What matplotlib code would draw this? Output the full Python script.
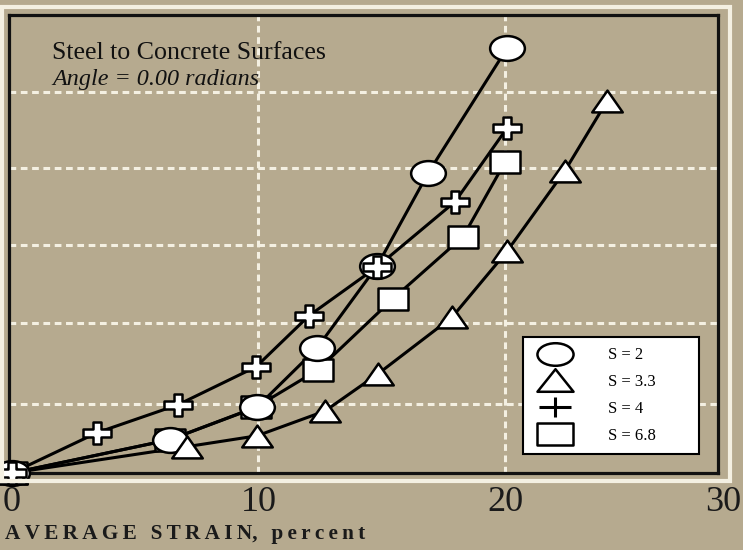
import matplotlib.pyplot as plt
import matplotlib.patches as mpatches
from matplotlib.path import Path
from matplotlib.lines import Line2D
from matplotlib.transforms import Affine2D

# values (y axis has no units in the original)
strain_s2 = [0, 6.41, 9.94, 12.37, 14.81, 16.88, 20.08]
load_s2 = [0, 0.43, 0.85, 1.61, 2.67, 3.87, 5.48]

strain_s33 = [0, 7.10, 9.94, 12.70, 14.85, 17.85, 20.08, 22.43, 24.14]
load_s33 = [0, 0.34, 0.48, 0.80, 1.28, 2.01, 2.86, 3.90, 4.80]

strain_s4 = [0, 3.45, 6.73, 9.90, 12.05, 14.81, 17.97, 20.08]
load_s4 = [0, 0.52, 0.88, 1.37, 2.03, 2.66, 3.50, 4.45]

strain_s68 = [0, 6.41, 9.90, 12.41, 15.46, 18.30, 20.00]
load_s68 = [0, 0.43, 0.85, 1.33, 2.25, 3.05, 4.01]

grid_x = [10, 20]
grid_y = [0.89, 1.94, 2.94, 3.94, 4.92]
tick_x = [0, 10, 20]
labels = ['S = 2', 'S = 3.3', 'S = 4', 'S = 6.8']

tan = '#b6aa8f'
cream = '#f4f0e2'
plt.rcParams['font.family'] = ['Liberation Serif', 'DejaVu Serif']


def shapes(r):
    # ellipse, box, triangle with width/height ratio r
    w = r / 2
    ell = Path.unit_circle().transformed(Affine2D().scale(r, 1.0))
    bx = Path([(-w, -0.5), (w, -0.5), (w, 0.5), (-w, 0.5), (-w, -0.5)], closed=True)
    tr = Path([(-w, -0.5), (w, -0.5), (0, 0.5), (-w, -0.5)], closed=True)
    return ell, bx, tr


ellipse, box, tri = shapes(1.4)
ellipse_l, box_l, tri_l = shapes(1.6)
a, b, t = 0.64, 0.5, 0.18
fat_plus = Path([(-a, -t), (-t, -t), (-t, -b), (t, -b), (t, -t), (a, -t), (a, t),
                 (t, t), (t, b), (-t, b), (-t, t), (-a, t), (-a, -t)], closed=True)
thin_plus = Path([(-0.82, 0), (0.82, 0), (0, -0.5), (0, 0.5)],
                 [Path.MOVETO, Path.LINETO, Path.MOVETO, Path.LINETO])

fig = plt.figure(figsize=(7.43, 5.5), dpi=100, facecolor=tan)
ax = fig.add_axes([9 / 743, 1 - 473 / 550, 709 / 743, 458 / 550])
ax.set_facecolor(tan)

# outer white frame of the scanned figure
fig.patches.append(mpatches.Rectangle((2 / 743, 1 - 481 / 550), 728 / 743, 474 / 550,
                                      transform=fig.transFigure, fill=False,
                                      edgecolor=cream, linewidth=3))

dash = (0, (2.2, 1.5))
ax.vlines(grid_x, 0, 5.91, colors=cream, linewidth=2.2, linestyles=dash, zorder=1)
ax.hlines(grid_y, -0.12, 28.64, colors=cream, linewidth=2.2, linestyles=dash, zorder=1)

series = [
    (strain_s68, load_s68, box, 21.5),
    (strain_s2, load_s2, ellipse, 25),
    (strain_s33, load_s33, tri, 22),
    (strain_s4, load_s4, fat_plus, 20),
]
for xs, ys, _, _ in series:
    ax.plot(xs, ys, color='black', linewidth=2.2, zorder=2)
for xs, ys, m, ms in series:
    ax.plot(xs, ys, linestyle='none', marker=m, markersize=ms, markerfacecolor='white',
            markeredgecolor='black', markeredgewidth=1.8, zorder=3, clip_on=False)

ax.set_xlim(-0.12, 28.64)
ax.set_ylim(0, 5.91)
ax.set_xticks(tick_x)
ax.set_xticklabels([str(v) for v in tick_x])
ax.set_yticks([])
ax.tick_params(axis='x', length=0, pad=9.5, labelsize=26, colors='#1a1a1a')
ax.text(1.008, -9.5 / 72 * 100 / 458, '30', transform=ax.transAxes, ha='center', va='top',
        fontsize=26, color='#1a1a1a', clip_on=False)
for s in ax.spines.values():
    s.set_linewidth(2.3)
    s.set_color('#111111')

ax.set_xlabel('A\u2009V\u2009E\u2009R\u2009A\u2009G\u2009E\u2009 \u2009S\u2009T\u2009R\u2009A\u2009I\u2009N,\u2009 \u2009'
              'p\u2009e\u2009r\u2009c\u2009e\u2009n\u2009t',
              loc='left', fontsize=15.3, fontweight='bold', color='#1a1a1a')
ax.xaxis.set_label_coords(-0.0056, -0.112)

ax.text(0.0606, 0.942, 'Steel to Concrete Surfaces', transform=ax.transAxes,
        fontsize=18.6, va='top', ha='left', color='#111111')
ax.text(0.0606, 0.882, 'Angle = 0.00 radians', transform=ax.transAxes,
        fontsize=17.4, va='top', ha='left', style='italic', color='#111111')

handles = [
    Line2D([], [], linestyle='none', marker=ellipse_l, markersize=26, markerfacecolor='white',
           markeredgecolor='black', markeredgewidth=1.8),
    Line2D([], [], linestyle='none', marker=tri_l, markersize=26, markerfacecolor='white',
           markeredgecolor='black', markeredgewidth=1.8),
    Line2D([], [], linestyle='none', marker=thin_plus, markersize=23, markerfacecolor='none',
           markeredgecolor='black', markeredgewidth=2.2),
    Line2D([], [], linestyle='none', marker=box_l, markersize=26, markerfacecolor='white',
           markeredgecolor='black', markeredgewidth=1.8),
]
leg = ax.legend(handles, labels, loc='lower left', bbox_to_anchor=(0.725, 0.0415, 0.248, 0.257),
                mode='expand', fontsize=12, frameon=True, fancybox=False, framealpha=1,
                borderpad=0.6, labelspacing=0.65, handlelength=2.6, handletextpad=1.9,
                borderaxespad=0)
leg.get_frame().set_edgecolor('black')
leg.get_frame().set_linewidth(1.5)

fig.savefig('out.png', dpi=100, facecolor=tan)
